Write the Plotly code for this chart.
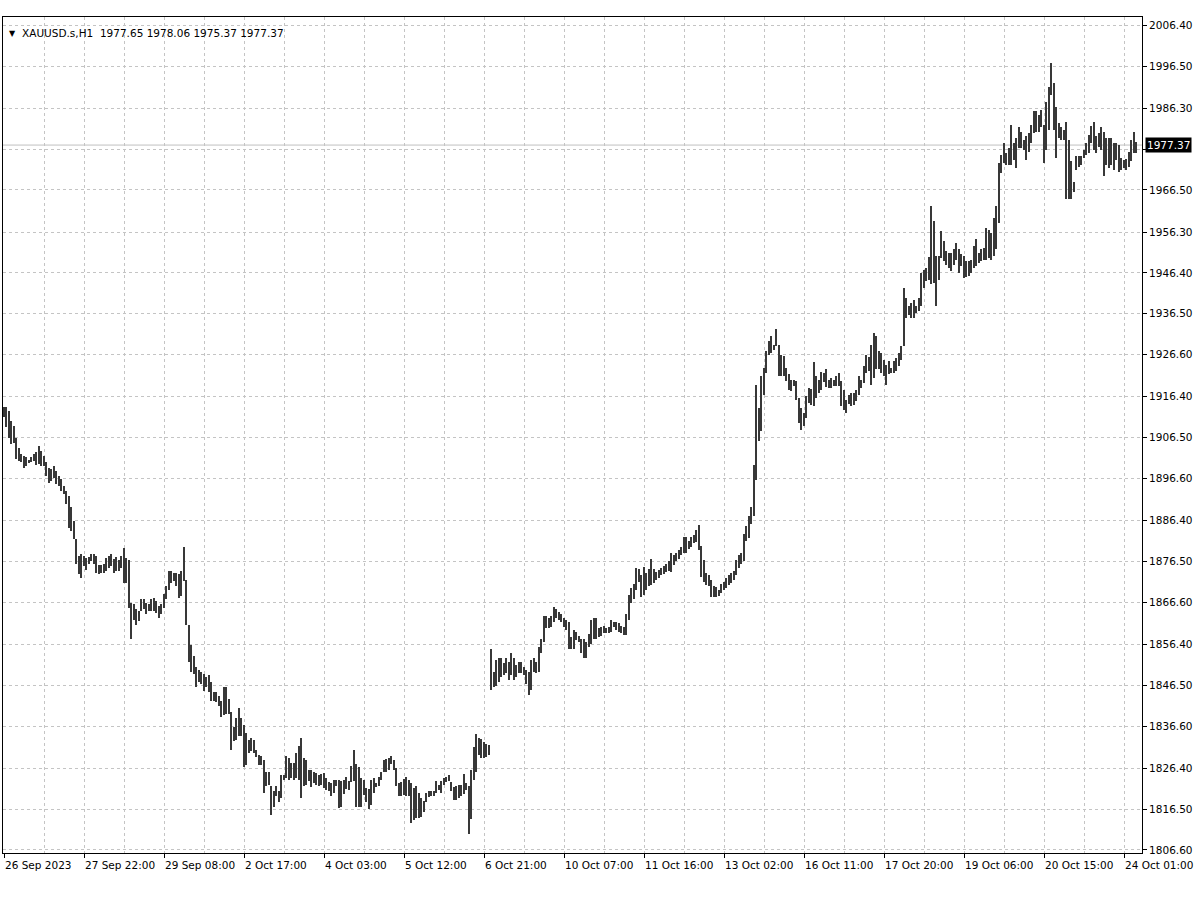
import plotly.graph_objects as go

symbol_label = "XAUUSD.s,H1"
last_ohlc = [1977.65, 1978.06, 1975.37, 1977.37]

time_labels = ["26 Sep 2023", "27 Sep 22:00", "29 Sep 08:00", "2 Oct 17:00", "4 Oct 03:00",
               "5 Oct 12:00", "6 Oct 21:00", "10 Oct 07:00", "11 Oct 16:00", "13 Oct 02:00",
               "16 Oct 11:00", "17 Oct 20:00", "19 Oct 06:00", "20 Oct 15:00", "24 Oct 01:00"]
label_bar_step = 32
grid_bar_step = 16

price_ticks = [2006.40, 1996.50, 1986.30, 1976.40, 1966.50, 1956.30, 1946.40, 1936.50, 1926.60,
               1916.40, 1906.50, 1896.60, 1886.40, 1876.50, 1866.60, 1856.40, 1846.50, 1836.60,
               1826.40, 1816.50, 1806.60]
hidden_price_tick = 1976.40  # covered by the current-price marker

# hourly bars, 26 Sep 13:00 .. 24 Oct 06:00 (high / low)
high = [
 1913.8, 1914.0, 1913.0, 1910.6, 1909.4, 1906.5, 1904.1, 1902.5, 1902.1, 1901.7,
 1901.0, 1901.7, 1902.6, 1903.1, 1904.5, 1903.3, 1902.1, 1900.5, 1899.2, 1898.8,
 1899.7, 1898.3, 1897.2, 1896.4, 1894.8, 1893.6, 1892.4, 1889.6, 1886.3, 1881.9,
 1877.8, 1878.2, 1877.8, 1877.4, 1877.6, 1878.2, 1878.2, 1877.7, 1875.6, 1875.6,
 1875.8, 1877.4, 1877.8, 1878.4, 1877.0, 1877.6, 1876.8, 1877.8, 1879.7, 1877.4,
 1876.8, 1866.5, 1866.1, 1864.9, 1864.5, 1867.5, 1867.5, 1866.5, 1866.1, 1867.3,
 1867.7, 1866.9, 1865.7, 1866.1, 1868.5, 1870.5, 1874.2, 1874.2, 1873.8, 1873.8,
 1873.4, 1874.3, 1880.0, 1872.1, 1861.1, 1856.2, 1853.7, 1850.9, 1850.1, 1849.7,
 1849.3, 1848.5, 1848.9, 1847.3, 1844.8, 1844.8, 1844.0, 1842.8, 1846.2, 1846.2,
 1843.1, 1840.1, 1836.5, 1838.6, 1841.0, 1838.6, 1837.0, 1834.9, 1833.3, 1833.7,
 1833.3, 1830.9, 1829.7, 1829.3, 1828.5, 1825.4, 1825.4, 1822.0, 1821.0, 1822.0,
 1820.8, 1824.8, 1824.8, 1829.4, 1828.9, 1827.6, 1827.6, 1830.1, 1831.9, 1833.7,
 1828.9, 1828.5, 1826.0, 1825.9, 1825.4, 1825.2, 1824.8, 1825.1, 1825.2, 1824.0,
 1823.0, 1822.8, 1823.6, 1823.6, 1823.6, 1823.2, 1823.6, 1824.4, 1823.2, 1827.0,
 1830.9, 1827.5, 1826.7, 1824.0, 1823.6, 1821.6, 1821.3, 1823.6, 1824.0, 1822.8,
 1824.3, 1825.6, 1828.5, 1828.6, 1828.9, 1829.4, 1828.5, 1826.4, 1822.8, 1823.0,
 1823.8, 1824.3, 1823.6, 1822.8, 1821.6, 1822.0, 1820.4, 1819.2, 1818.5, 1820.5,
 1820.8, 1820.8, 1821.0, 1823.2, 1822.4, 1823.4, 1824.0, 1824.4, 1824.8, 1823.0,
 1821.8, 1822.0, 1822.4, 1822.4, 1825.1, 1822.8, 1822.0, 1826.0, 1831.5, 1834.8,
 1833.7, 1833.5, 1832.7, 1832.3, 1832.0, 1855.4, 1849.8, 1852.6, 1853.0, 1853.0,
 1851.8, 1853.0, 1852.2, 1854.4, 1853.0, 1851.4, 1852.2, 1852.2, 1851.0, 1850.3,
 1849.8, 1852.6, 1853.0, 1852.2, 1855.8, 1857.8, 1863.3, 1863.3, 1862.9, 1863.3,
 1865.4, 1865.1, 1864.3, 1863.7, 1862.7, 1862.4, 1861.9, 1858.3, 1859.9, 1859.5,
 1858.4, 1857.8, 1857.8, 1857.0, 1858.9, 1862.4, 1862.9, 1862.7, 1860.3, 1860.5,
 1860.8, 1860.3, 1860.7, 1862.3, 1861.9, 1861.9, 1861.5, 1860.8, 1860.7, 1863.7,
 1868.4, 1870.0, 1871.0, 1874.8, 1874.6, 1873.2, 1875.1, 1873.8, 1874.6, 1877.0,
 1874.6, 1874.0, 1874.4, 1874.8, 1875.4, 1876.0, 1876.5, 1878.6, 1878.1, 1878.5,
 1879.3, 1880.1, 1882.5, 1882.5, 1881.5, 1882.4, 1882.9, 1884.1, 1885.3, 1880.3,
 1876.9, 1873.6, 1873.2, 1872.0, 1870.5, 1870.4, 1869.6, 1871.0, 1871.6, 1872.4,
 1873.2, 1873.6, 1874.3, 1876.9, 1878.1, 1878.5, 1883.2, 1885.1, 1887.4, 1889.8,
 1899.9, 1919.3, 1913.7, 1921.4, 1923.4, 1927.4, 1929.8, 1931.1, 1929.0, 1932.7,
 1929.0, 1926.6, 1926.2, 1923.4, 1921.8, 1920.5, 1920.5, 1920.1, 1916.1, 1913.7,
 1912.5, 1916.5, 1918.5, 1918.3, 1924.7, 1921.4, 1920.5, 1922.3, 1922.2, 1923.0,
 1920.5, 1921.0, 1920.5, 1921.4, 1922.2, 1920.1, 1918.0, 1915.7, 1916.9, 1917.3,
 1917.3, 1918.1, 1921.4, 1920.5, 1923.8, 1926.6, 1926.0, 1929.0, 1931.9, 1931.1,
 1927.4, 1927.0, 1925.4, 1924.2, 1925.0, 1923.4, 1925.0, 1925.8, 1927.0, 1928.6,
 1942.8, 1940.4, 1938.5, 1939.0, 1939.9, 1938.5, 1940.4, 1946.3, 1947.2, 1947.6,
 1950.3, 1962.6, 1958.9, 1950.5, 1950.5, 1956.5, 1954.1, 1951.7, 1951.3, 1951.3,
 1952.1, 1953.7, 1952.1, 1950.9, 1950.5, 1949.2, 1949.2, 1949.6, 1952.9, 1954.5,
 1951.3, 1952.1, 1952.5, 1957.3, 1956.8, 1956.1, 1959.8, 1962.6, 1973.0, 1975.0,
 1977.8, 1975.4, 1976.6, 1982.2, 1977.8, 1979.0, 1981.8, 1980.6, 1978.6, 1979.6,
 1980.2, 1982.2, 1985.5, 1985.5, 1984.7, 1985.9, 1982.2, 1987.9, 1991.5, 1997.2,
 1992.5, 1986.7, 1982.6, 1981.8, 1981.0, 1983.0, 1978.6, 1973.4, 1968.5, 1974.6,
 1974.6, 1974.7, 1976.2, 1977.8, 1979.8, 1982.0, 1983.0, 1979.6, 1980.2, 1981.8,
 1980.6, 1979.0, 1979.0, 1979.0, 1977.8, 1977.8, 1977.4, 1974.2, 1973.8, 1973.9,
 1975.8, 1978.6, 1980.6, 1978.06,
]
low = [
 1911.4, 1909.0, 1906.5, 1904.9, 1905.3, 1901.3, 1900.9, 1900.5, 1899.2, 1899.7,
 1900.4, 1900.5, 1900.9, 1899.9, 1900.1, 1899.7, 1899.7, 1897.2, 1895.6, 1896.0,
 1896.8, 1895.2, 1894.8, 1893.6, 1892.8, 1890.3, 1884.7, 1883.9, 1881.9, 1875.8,
 1873.4, 1872.6, 1875.4, 1874.5, 1875.8, 1876.6, 1875.8, 1873.8, 1873.5, 1873.8,
 1873.8, 1874.3, 1875.0, 1875.4, 1873.8, 1874.2, 1874.2, 1875.0, 1871.3, 1871.3,
 1865.3, 1857.6, 1862.4, 1861.2, 1862.0, 1864.5, 1864.9, 1863.7, 1864.5, 1864.6,
 1864.5, 1864.1, 1862.8, 1863.7, 1865.3, 1867.3, 1869.7, 1871.3, 1871.7, 1870.5,
 1867.7, 1868.1, 1871.7, 1861.1, 1852.2, 1849.7, 1849.3, 1846.0, 1847.3, 1846.9,
 1845.2, 1846.0, 1844.8, 1842.8, 1842.8, 1842.4, 1841.6, 1838.9, 1839.4, 1839.6,
 1839.5, 1830.8, 1832.9, 1833.3, 1834.1, 1834.1, 1826.8, 1827.2, 1830.1, 1830.5,
 1830.1, 1829.1, 1827.2, 1827.2, 1820.4, 1822.0, 1822.4, 1815.1, 1817.1, 1819.6,
 1818.3, 1819.2, 1823.6, 1824.0, 1823.6, 1824.0, 1823.6, 1824.0, 1823.6, 1819.2,
 1822.0, 1822.4, 1823.2, 1821.8, 1822.8, 1822.4, 1822.0, 1822.4, 1821.6, 1821.2,
 1820.8, 1819.7, 1820.4, 1822.0, 1816.7, 1817.1, 1820.2, 1821.3, 1821.2, 1823.0,
 1823.2, 1817.1, 1817.0, 1817.1, 1820.0, 1818.3, 1816.5, 1817.5, 1820.4, 1821.8,
 1822.0, 1823.6, 1825.6, 1825.6, 1826.0, 1827.5, 1826.0, 1822.0, 1819.7, 1819.7,
 1820.0, 1819.6, 1819.6, 1813.1, 1813.9, 1814.3, 1814.3, 1814.7, 1815.9, 1818.3,
 1819.4, 1819.6, 1819.7, 1820.5, 1821.2, 1820.4, 1822.4, 1823.0, 1823.2, 1820.8,
 1818.6, 1818.6, 1819.2, 1819.6, 1820.2, 1821.2, 1810.5, 1814.1, 1823.6, 1825.6,
 1829.7, 1828.9, 1828.9, 1829.1, 1829.5, 1845.3, 1846.1, 1846.3, 1847.3, 1848.5,
 1848.9, 1849.4, 1847.7, 1848.9, 1847.9, 1848.5, 1849.4, 1849.5, 1848.9, 1846.9,
 1844.1, 1845.3, 1849.8, 1849.4, 1849.8, 1854.2, 1857.0, 1860.3, 1860.3, 1860.7,
 1861.9, 1862.7, 1862.4, 1861.9, 1860.7, 1859.9, 1855.4, 1855.2, 1855.2, 1857.4,
 1857.0, 1854.2, 1853.0, 1853.0, 1855.8, 1856.6, 1857.8, 1857.8, 1858.3, 1858.4,
 1859.1, 1859.2, 1859.2, 1859.5, 1860.7, 1859.9, 1859.5, 1859.1, 1858.7, 1858.7,
 1862.3, 1866.5, 1867.5, 1869.6, 1871.6, 1867.8, 1868.4, 1869.6, 1870.5, 1870.8,
 1871.2, 1872.0, 1872.4, 1873.2, 1873.5, 1874.0, 1874.3, 1874.0, 1875.6, 1876.7,
 1877.0, 1878.1, 1878.5, 1878.5, 1879.4, 1879.9, 1880.9, 1881.1, 1879.3, 1872.8,
 1871.6, 1870.8, 1870.5, 1868.0, 1867.8, 1867.8, 1868.1, 1868.8, 1869.7, 1870.0,
 1870.8, 1871.3, 1872.0, 1873.2, 1874.8, 1876.0, 1876.5, 1881.5, 1882.2, 1885.5,
 1887.4, 1896.3, 1905.6, 1908.0, 1916.9, 1922.2, 1926.6, 1927.0, 1927.8, 1928.6,
 1921.4, 1921.4, 1921.4, 1920.1, 1918.1, 1917.7, 1918.9, 1915.7, 1910.0, 1908.4,
 1909.2, 1911.2, 1914.9, 1914.5, 1914.1, 1916.1, 1917.3, 1918.1, 1919.9, 1918.8,
 1918.5, 1918.5, 1919.1, 1918.9, 1918.9, 1914.1, 1913.3, 1912.5, 1914.7, 1914.2,
 1914.5, 1915.3, 1916.9, 1918.5, 1919.7, 1922.2, 1922.6, 1919.3, 1921.0, 1923.0,
 1923.0, 1922.2, 1921.4, 1919.3, 1921.8, 1922.2, 1922.2, 1922.6, 1923.8, 1925.4,
 1928.6, 1935.5, 1936.3, 1935.5, 1935.5, 1936.7, 1937.1, 1938.3, 1942.8, 1944.4,
 1944.8, 1943.6, 1944.0, 1938.3, 1944.8, 1950.1, 1949.2, 1948.4, 1947.6, 1946.8,
 1948.4, 1949.6, 1946.3, 1948.0, 1945.2, 1945.4, 1945.6, 1946.4, 1947.6, 1948.0,
 1948.8, 1949.2, 1949.6, 1949.6, 1950.1, 1949.6, 1950.5, 1952.1, 1958.5, 1970.5,
 1973.0, 1972.5, 1972.5, 1972.5, 1973.8, 1971.7, 1976.6, 1976.6, 1976.2, 1973.8,
 1975.8, 1977.8, 1980.2, 1980.6, 1980.6, 1981.8, 1973.0, 1976.2, 1981.0, 1989.5,
 1981.0, 1974.2, 1979.0, 1978.6, 1978.6, 1964.2, 1964.2, 1964.2, 1966.1, 1971.3,
 1972.1, 1972.5, 1974.2, 1975.0, 1975.4, 1977.8, 1976.2, 1975.4, 1977.0, 1976.2,
 1969.9, 1972.5, 1971.7, 1972.5, 1971.3, 1973.8, 1970.9, 1971.3, 1971.7, 1971.3,
 1972.1, 1973.4, 1975.4, 1975.37,
]

bar_index = list(range(len(high)))
bar_range = [h - l for h, l in zip(high, low)]

fig = go.Figure()
fig.add_trace(go.Bar(
    x=bar_index, base=low, y=bar_range, width=0.72,
    marker=dict(color="#383838", line=dict(width=0)),
    hoverinfo="skip", showlegend=False,
))

label_idx = [k * label_bar_step for k in range(len(time_labels))]
minor_idx = [k * grid_bar_step for k in range(1, 2 * len(time_labels)) if k % 2 == 1]

grid_col = "#c4c4c4"
font_fam = "DejaVu Sans"
tick_text = ["" if v == hidden_price_tick else f"{v:.2f}" for v in price_ticks]

fig.update_layout(
    width=1200, height=900,
    margin=dict(l=3, r=58, t=17, b=47),
    paper_bgcolor="white", plot_bgcolor="white",
    bargap=0,
    font=dict(family=font_fam, size=10, color="black"),
    xaxis=dict(
        range=[-0.4, 455.2], tickvals=label_idx, showticklabels=False,
        ticks="outside", ticklen=4, tickcolor="black",
        showgrid=True, gridcolor=grid_col, griddash="3px,3px", gridwidth=1,
        minor=dict(tickvals=minor_idx, showgrid=True, gridcolor=grid_col,
                   griddash="3px,3px", ticks=""),
        showline=True, linecolor="black", linewidth=1, mirror=True,
        zeroline=False, fixedrange=True,
    ),
    yaxis=dict(
        side="right", range=[1805.87, 2008.39],
        tickvals=price_ticks, ticktext=tick_text,
        ticks="outside", ticklen=4, tickcolor="black",
        tickfont=dict(family=font_fam, size=10.5, color="black"),
        showgrid=True, gridcolor=grid_col, griddash="3px,3px", gridwidth=1,
        showline=True, linecolor="black", linewidth=1, mirror=True,
        zeroline=False, fixedrange=True, automargin=False,
    ),
)

# bid line
fig.add_shape(type="line", xref="paper", x0=0, x1=1, yref="y",
              y0=last_ohlc[3], y1=last_ohlc[3], line=dict(color="#c0c0c0", width=1),
              layer="below")

annotations = []
for idx, txt in zip(label_idx, time_labels):
    annotations.append(dict(x=idx, y=0, xref="x", yref="paper", text=txt,
                            showarrow=False, xanchor="left", yanchor="top",
                            xshift=-1, yshift=-4,
                            font=dict(family=font_fam, size=10.5, color="black")))
annotations.append(dict(x=1, y=last_ohlc[3], xref="paper", yref="y",
                        text=f"{last_ohlc[3]:.2f}", showarrow=False,
                        xanchor="left", yanchor="middle", xshift=3,
                        bgcolor="black", borderpad=1,
                        font=dict(family=font_fam, size=10.5, color="white")))
annotations.append(dict(x=0, y=1, xref="paper", yref="paper", text="▼",
                        showarrow=False, xanchor="left", yanchor="top",
                        xshift=4, yshift=-10,
                        font=dict(family=font_fam, size=8, color="black")))
header = symbol_label + "  " + " ".join(f"{v:.2f}" for v in last_ohlc)
annotations.append(dict(x=0, y=1, xref="paper", yref="paper", text=header,
                        showarrow=False, xanchor="left", yanchor="top",
                        xshift=17, yshift=-8,
                        font=dict(family=font_fam, size=10.5, color="black")))
fig.update_layout(annotations=annotations)

fig.write_html("out.html", config={"displayModeBar": False},
               post_script="document.body.style.margin='0';")
